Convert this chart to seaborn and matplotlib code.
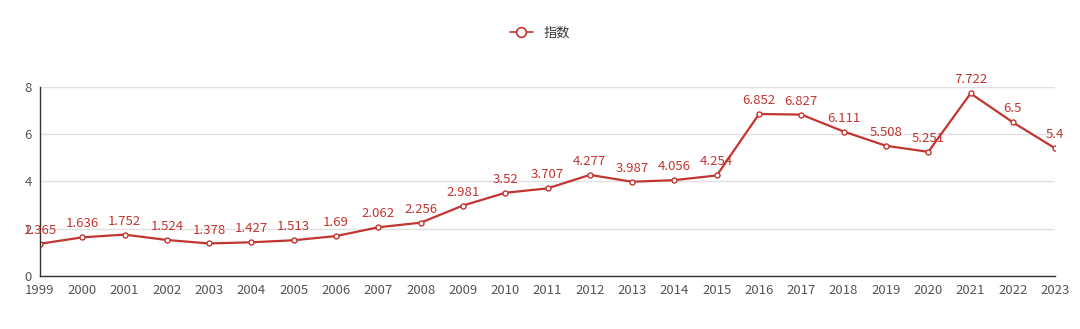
import matplotlib
matplotlib.use("Agg")
import matplotlib.pyplot as plt
from matplotlib.lines import Line2D
import seaborn as sns
import pandas as pd

years = [str(y) for y in range(1999, 2024)]
values = [1.365, 1.636, 1.752, 1.524, 1.378, 1.427, 1.513, 1.69, 2.062, 2.256,
          2.981, 3.52, 3.707, 4.277, 3.987, 4.056, 4.254, 6.852, 6.827, 6.111,
          5.508, 5.251, 7.722, 6.5, 5.4]
labels = ["1.365", "1.636", "1.752", "1.524", "1.378", "1.427", "1.513", "1.69", "2.062", "2.256",
          "2.981", "3.52", "3.707", "4.277", "3.987", "4.056", "4.254", "6.852", "6.827", "6.111",
          "5.508", "5.251", "7.722", "6.5", "5.4"]
series_name = "指数"
yticks = [0, 2, 4, 6, 8]

sns.set_theme(style="white")
plt.rcParams['font.family'] = ['Noto Sans CJK SC', 'DejaVu Sans']

color = "#c23531"
df = pd.DataFrame({"year": list(range(len(years))), "value": values})

fig = plt.figure(figsize=(10.8, 3.29), dpi=100)
ax = fig.add_axes([0.037, 0.161, 0.94, 0.575])

sns.lineplot(data=df, x="year", y="value", ax=ax, color=color, linewidth=1.6,
             marker="o", markersize=3.6, markerfacecolor="white",
             markeredgecolor=color, markeredgewidth=1.0, legend=False)

for i, (v, t) in enumerate(zip(values, labels)):
    ax.annotate(t, (i, v), xytext=(0, 5), textcoords="offset points",
                ha="center", va="bottom", color=color, fontsize=9.5)

ax.set_xlim(0, len(years) - 1)
ax.set_ylim(0, 8)
ax.set_xticks(range(len(years)))
ax.set_xticklabels(years)
ax.set_yticks(yticks)
ax.set_yticklabels([str(t) for t in yticks])
ax.set_xlabel("")
ax.set_ylabel("")
ax.grid(axis="y", color="#e0e0e0", linewidth=1)
ax.set_axisbelow(True)
for s in ["top", "right"]:
    ax.spines[s].set_visible(False)
for s in ["left", "bottom"]:
    ax.spines[s].set_color("#333333")
    ax.spines[s].set_linewidth(1)
ax.tick_params(axis="both", colors="#333333", labelcolor="#555555", labelsize=9.5,
               length=4, width=1, direction="out", pad=2)

handle = Line2D([], [], color=color, linewidth=1.2, marker="o", markersize=7,
                markerfacecolor="white", markeredgecolor=color, markeredgewidth=1.2)
ax.legend([handle], [series_name], loc="center", bbox_to_anchor=(0.5, 0.898),
          bbox_transform=fig.transFigure, frameon=False, fontsize=9.5,
          handlelength=1.8, labelcolor="#333333")

fig.savefig("out.png", dpi=100)
